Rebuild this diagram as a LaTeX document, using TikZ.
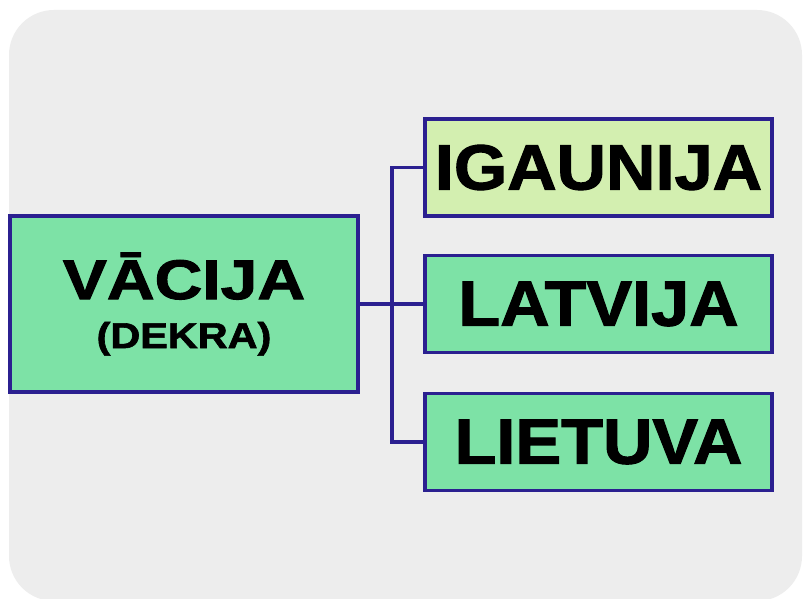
\documentclass[tikz,border=0pt]{standalone}
\usepackage{graphicx}
\usepackage{fontspec}
\setmainfont{Liberation Sans}[BoldFeatures={FakeBold=1.6}]
\definecolor{bgGrey}{HTML}{EDEDED}
\definecolor{boxGreen}{HTML}{7DE2A6}
\definecolor{boxLime}{HTML}{D3EFB0}
\definecolor{lineBlue}{HTML}{2B2090}
\tikzstyle{countrybox}=[rectangle,draw=lineBlue,line width=3.2pt,fill=boxGreen,
                        inner sep=0pt,minimum width=347pt,minimum height=97pt,
                        font=\bfseries\fontsize{64}{70}\selectfont]
\tikzstyle{link}=[draw=lineBlue,line width=3.2pt]
\newcommand{\wide}[2]{\scalebox{#1}[1]{#2}}

\begin{document}
\begin{tikzpicture}[x=1pt,y=-1pt]
    \useasboundingbox (0,0) rectangle (805,599);
    \fill[white] (0,0) rectangle (805,599);
    \fill[bgGrey,rounded corners=45pt] (9,10) rectangle (802,601);
    % left box
    \node (vacija) at (184,304) [countrybox,minimum width=348pt,minimum height=176pt,
        align=center,font=\bfseries\fontsize{36}{49}\selectfont]
        {{\fontsize{56}{60}\selectfont\wide{1.18}{VĀCIJA}}\\\wide{1.15}{(DEKRA)}};
    % right boxes
    \node (igaunija) at (598.5,167.5) [countrybox,fill=boxLime]{\wide{1.07}{IGAUNIJA}};
    \node (latvija)  at (598.5,304)   [countrybox]{\wide{1.07}{LATVIJA}};
    \node (lietuva)  at (598.5,442)   [countrybox]{\wide{1.07}{LIETUVA}};
    \coordinate (split) at (392,304);
    \draw[link] (vacija.east) -- (latvija.west);
    \draw[link] (igaunija.west) -| (split) |- (lietuva.west);
\end{tikzpicture}
\end{document}
